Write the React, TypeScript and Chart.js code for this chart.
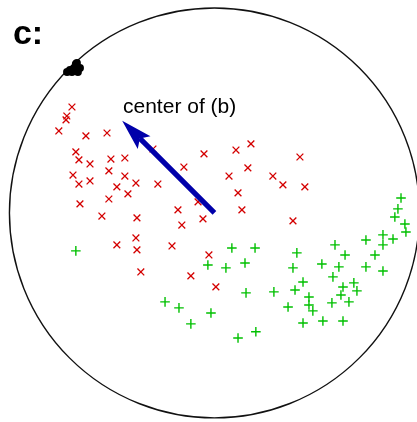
import { useEffect, useRef } from "react";
import { Chart, registerables } from "chart.js";

Chart.register(...registerables);

// Projected samples, unit disk scaled to radius 100, centre at the origin.
const classAPoints: [number, number][] = [
  [-69.5, 51.7], [-72.0, 47.3], [-72.4, 45.4], [-75.9, 40.0], [-62.7, 37.6],
  [-52.4, 39.0], [-67.6, 29.8], [-66.1, 25.9], [-60.7, 23.9], [-50.5, 26.3],
  [-43.7, 26.8], [-30.0, 31.2], [-69.0, 18.5], [-66.1, 14.1], [-60.7, 15.6],
  [-51.5, 20.5], [-43.7, 18.0], [-47.6, 12.7], [-38.3, 14.6], [-27.6, 14.1],
  [-42.2, 9.3], [-51.5, 6.8], [-65.6, 4.4], [-54.9, -1.5], [-37.8, -2.4],
  [-5.1, 28.8], [10.5, 30.7], [17.8, 33.7], [41.7, 27.3], [-14.9, 22.4],
  [16.3, 22.0], [7.1, 18.0], [28.5, 18.0], [33.4, 13.7], [44.1, 12.7],
  [11.5, 9.8], [-8.0, 5.4], [-17.8, 1.5], [13.4, 1.5], [-5.6, -2.9],
  [38.3, -3.9], [-15.9, -5.9], [-38.3, -12.2], [-47.6, -15.6], [-37.8, -18.0],
  [-20.7, -16.1], [-2.7, -20.5], [-35.9, -28.8], [-11.5, -30.7], [0.7, -36.1],
];

const classBPoints: [number, number][] = [
  [-67.6, -18.5], [-24.1, -43.4], [-17.3, -46.3], [-11.5, -54.1], [-3.2, -25.4],
  [-1.7, -48.8], [8.5, -17.1], [19.8, -17.1], [5.6, -26.8], [14.9, -24.4],
  [15.4, -39.0], [20.2, -58.0], [11.5, -61.0], [40.2, -19.5], [38.3, -26.8],
  [29.0, -38.5], [39.3, -37.6], [35.9, -45.9], [46.1, -41.0], [46.1, -44.9],
  [48.0, -47.8], [43.2, -53.7], [52.9, -52.7], [62.7, -52.7], [52.4, -24.9],
  [60.7, -26.3], [57.8, -31.2], [43.2, -33.7], [63.7, -20.5], [58.8, -15.6],
  [73.9, -13.2], [73.9, -26.3], [68.0, -34.1], [62.7, -36.1], [69.5, -38.0],
  [61.7, -40.0], [57.3, -43.9], [65.6, -43.4], [78.3, -20.5], [82.2, -10.7],
  [82.2, -15.6], [82.2, -28.3], [87.1, -12.7], [91.0, 7.3], [89.5, 2.0],
  [88.0, -2.0], [92.9, -5.4], [93.4, -9.3],
];

// Samples piled up on the boundary.
const boundaryPoints: [number, number][] = [
  [-71.9, 68.8], [-69.5, 68.8], [-66.6, 68.8], [-65.6, 70.7],
  [-67.6, 72.7], [-68.5, 70.7], [-70.5, 69.8], [-67.1, 73.2],
];

const circleRadius = 100;
const arrowFrom: [number, number] = [0, 0];
const arrowTo: [number, number] = [-45, 45];
const arrowLabel = "center of (b)";
const arrowLabelAt: [number, number] = [-44.6, 48.8];
const panelLabel = "c:";
const panelLabelAt: [number, number] = [-98.3, 82.4];

const xRange: [number, number] = [-104.6, 98.8];
const yRange: [number, number] = [-102.0, 103.9];

const toXY = (pts: [number, number][]) => pts.map(([x, y]) => ({ x, y }));

const overlay = {
  id: "diskOverlay",
  beforeDatasetsDraw(chart: any) {
    const { ctx } = chart;
    const sx = chart.scales.x;
    const sy = chart.scales.y;
    const cx = sx.getPixelForValue(0);
    const cy = sy.getPixelForValue(0);
    const rx = Math.abs(sx.getPixelForValue(circleRadius) - cx);
    const ry = Math.abs(sy.getPixelForValue(circleRadius) - cy);
    ctx.save();
    ctx.beginPath();
    ctx.ellipse(cx, cy, rx, ry, 0, 0, Math.PI * 2);
    ctx.lineWidth = 1.4;
    ctx.strokeStyle = "#111";
    ctx.stroke();
    ctx.restore();
  },
  afterDatasetsDraw(chart: any) {
    const { ctx } = chart;
    const sx = chart.scales.x;
    const sy = chart.scales.y;
    const x0 = sx.getPixelForValue(arrowFrom[0]);
    const y0 = sy.getPixelForValue(arrowFrom[1]);
    const x1 = sx.getPixelForValue(arrowTo[0]);
    const y1 = sy.getPixelForValue(arrowTo[1]);
    const len = Math.hypot(x1 - x0, y1 - y0);
    const ux = (x1 - x0) / len;
    const uy = (y1 - y0) / len;
    const px = -uy;
    const py = ux;
    const headLen = 31;
    const headHalf = 9;
    const notch = 25;
    const shaftHalf = 2.6;

    ctx.save();
    ctx.fillStyle = "#0000aa";
    // shaft
    const bx = x1 - ux * notch;
    const by = y1 - uy * notch;
    ctx.beginPath();
    ctx.moveTo(x0 + px * shaftHalf, y0 + py * shaftHalf);
    ctx.lineTo(bx + px * shaftHalf, by + py * shaftHalf);
    ctx.lineTo(bx - px * shaftHalf, by - py * shaftHalf);
    ctx.lineTo(x0 - px * shaftHalf, y0 - py * shaftHalf);
    ctx.closePath();
    ctx.fill();
    // head
    const hx = x1 - ux * headLen;
    const hy = y1 - uy * headLen;
    ctx.beginPath();
    ctx.moveTo(x1, y1);
    ctx.lineTo(hx + px * headHalf, hy + py * headHalf);
    ctx.lineTo(bx, by);
    ctx.lineTo(hx - px * headHalf, hy - py * headHalf);
    ctx.closePath();
    ctx.fill();

    // labels
    ctx.fillStyle = "#000";
    ctx.textBaseline = "alphabetic";
    ctx.textAlign = "left";
    ctx.font = '21px "Liberation Sans", Arial, sans-serif';
    ctx.fillText(arrowLabel, sx.getPixelForValue(arrowLabelAt[0]), sy.getPixelForValue(arrowLabelAt[1]));
    ctx.font = 'bold 34px "Liberation Sans", Arial, sans-serif';
    ctx.fillText(panelLabel, sx.getPixelForValue(panelLabelAt[0]), sy.getPixelForValue(panelLabelAt[1]));
    ctx.restore();
  },
};

export default function App() {
  const canvasRef = useRef<HTMLCanvasElement | null>(null);

  useEffect(() => {
    document.body.style.margin = "0";
    const canvas = canvasRef.current;
    if (!canvas) return;
    const chart = new Chart(canvas, {
      type: "scatter",
      data: {
        datasets: [
          {
            label: "class A",
            data: toXY(classAPoints),
            pointStyle: "crossRot",
            pointRadius: 4.8,
            borderColor: "#d40000",
            backgroundColor: "#d40000",
            pointBorderWidth: 1.3,
            clip: false,
          },
          {
            label: "class B",
            data: toXY(classBPoints),
            pointStyle: "cross",
            pointRadius: 4.8,
            borderColor: "#00c000",
            backgroundColor: "#00c000",
            pointBorderWidth: 1.4,
            clip: false,
          },
          {
            label: "boundary",
            data: toXY(boundaryPoints),
            pointStyle: "circle",
            pointRadius: 4,
            borderColor: "#000",
            backgroundColor: "#000",
            pointBorderWidth: 0,
            clip: false,
          },
        ],
      },
      options: {
        animation: false,
        responsive: false,
        devicePixelRatio: 1,
        layout: { padding: 0, autoPadding: false },
        plugins: { legend: { display: false }, tooltip: { enabled: false }, title: { display: false } },
        scales: {
          x: { type: "linear", display: false, min: xRange[0], max: xRange[1] },
          y: { type: "linear", display: false, min: yRange[0], max: yRange[1] },
        },
      },
      plugins: [overlay],
    });
    return () => chart.destroy();
  }, []);

  return (
    <canvas
      ref={canvasRef}
      width={417}
      height={422}
      style={{ display: "block", width: 417, height: 422 }}
    />
  );
}
